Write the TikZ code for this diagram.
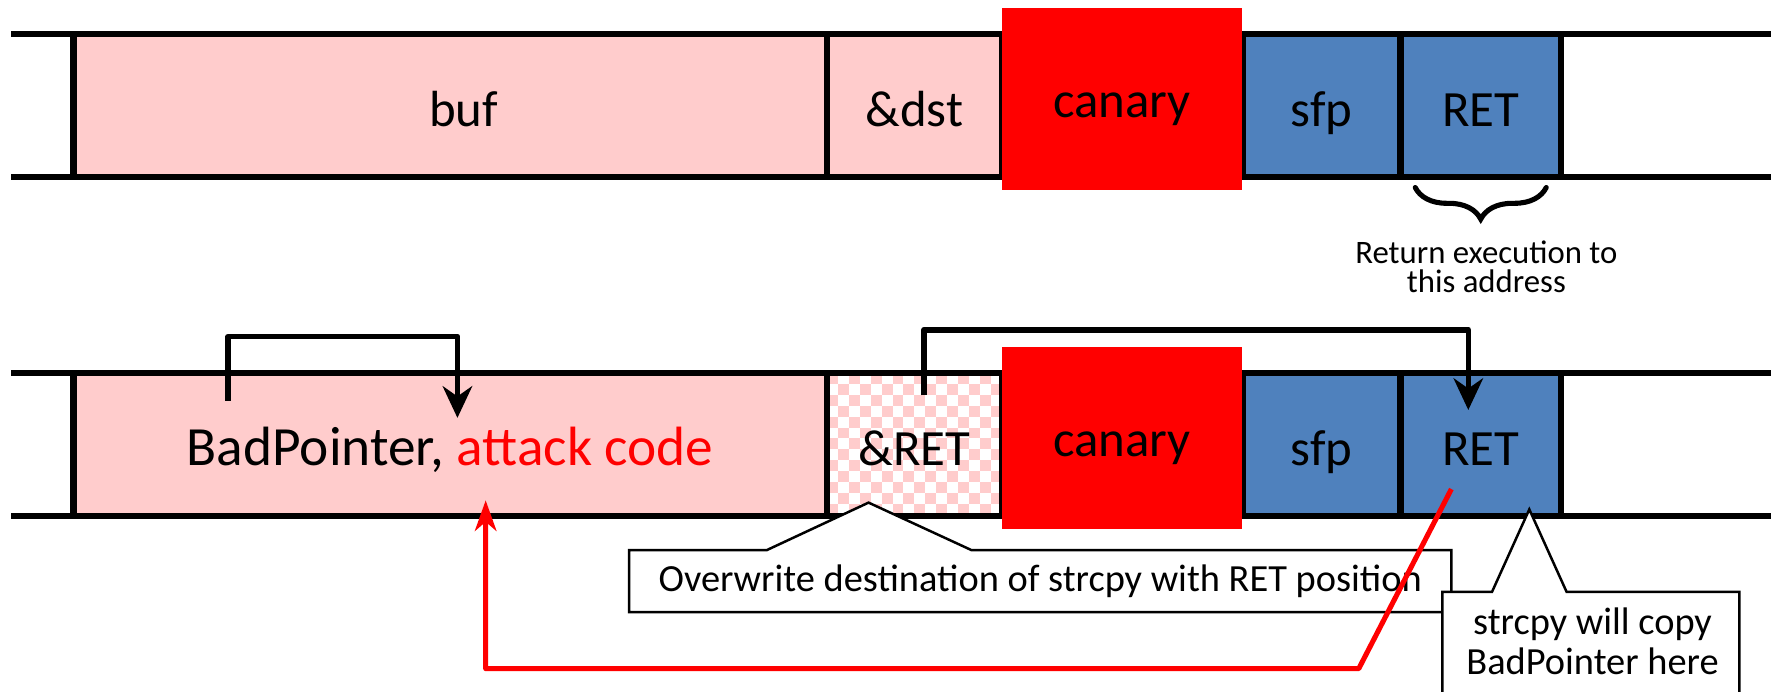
\documentclass[tikz,border=0pt]{standalone}
\usepackage{fontspec}
\setmainfont{Carlito}
\usetikzlibrary{arrows.meta,decorations.pathreplacing}
\definecolor{pinkc}{HTML}{FFCCCC}
\definecolor{bluec}{HTML}{4F81BD}
\definecolor{redc}{HTML}{FF0000}
\begin{document}
\begin{tikzpicture}[x=1pt,y=-1pt,
  rail/.style={line width=5.5pt},
  cell/.style={draw=black,line width=5.5pt,minimum height=127pt,inner sep=0pt,
    text height=37pt,text depth=0pt,font=\fontsize{45}{54}\selectfont},
  canarybox/.style={fill=redc,minimum width=213pt,minimum height=161pt,inner sep=0pt,
    text height=33pt,text depth=0pt,font=\fontsize{45}{54}\selectfont},
  blk/.style={line width=5pt,line join=round,-{Stealth[length=28pt,width=26pt,inset=9pt]}},
  redarrow/.style={draw=redc,line width=4.5pt,line join=round,-{Stealth[length=27pt,width=19pt,inset=8pt]}},
  callout/.style={draw=black,fill=white,line width=2.2pt,line join=miter},
  calltext/.style={font=\fontsize{34}{35}\selectfont,align=center,inner sep=0pt},
  note/.style={font=\fontsize{29}{26}\selectfont,align=center,inner sep=0pt}
]
\clip (0,0) rectangle (1568,612);
% ---------- top row ----------
\draw[rail] (10,30) -- (1568,30);
\draw[rail] (10,157) -- (1568,157);
\node[cell,fill=pinkc,minimum width=667pt] (b1buf) at (398.5,93.5) {\hspace*{24pt}buf};
\node[cell,fill=pinkc,minimum width=155pt] (b1dst) at (809.5,93.5) {\&dst};
\node[cell,fill=bluec,minimum width=140pt] (b1sfp) at (1170,93.5) {sfp};
\node[cell,fill=bluec,minimum width=142pt] (b1ret) at (1311,93.5) {RET};
\node[canarybox] (b1can) at (993.5,87.5) {canary};
\draw[decorate,decoration={brace,amplitude=28pt,mirror},line width=4.5pt,line cap=round] (1253,166) -- (1369,166);
\node[note] (retnote) at (1316,236) {Return execution to\\this address};
% ---------- bottom row ----------
\draw[rail] (10,330) -- (1568,330);
\draw[rail] (10,457) -- (1568,457);
\node[cell,fill=pinkc,minimum width=667pt,font=\fontsize{49}{58}\selectfont] (b2buf) at (398.5,393.5)
  {BadPointer, \textcolor{redc}{attack code}};
\begin{scope}
  \clip (732,330) rectangle (887,457);
  \fill[white] (732,330) rectangle (887,457);
  \foreach \i in {0,...,16}{
    \foreach \j in {0,...,13}{
      \pgfmathtruncatemacro\k{mod(\i+\j,2)}
      \ifnum\k=0
        \fill[pinkc] ({732+\i*9.7},{330+\j*9.7}) rectangle ++(9.7,9.7);
      \fi
    }
  }
\end{scope}
\node[cell,minimum width=155pt] (b2amp) at (809.5,393.5) {\&RET};
\node[cell,fill=bluec,minimum width=140pt] (b2sfp) at (1170,393.5) {sfp};
\node[cell,fill=bluec,minimum width=142pt] (b2ret) at (1311,393.5) {RET};
\node[canarybox] (b2can) at (993.5,387.5) {canary};
% ---------- black arrows ----------
\coordinate (a1s) at (202,355);
\coordinate (a1e) at (405,370);
\draw[blk] (a1s) -- ++(0,-57) -| (a1e);
\coordinate (a2s) at (818,350);
\coordinate (a2e) at (1300,363);
\draw[blk] (a2s) -- ++(0,-58) -| (a2e);
% ---------- callout 1 ----------
\draw[callout] (557,487) -- (679,487) -- (769,445) -- (860,487) -- (1285,487)
  -- (1285,542) -- (557,542) -- cycle;
\node[calltext] (c1) at (921,515) {Overwrite destination of strcpy with RET position};
% ---------- red arrow ----------
\coordinate (r0) at (1285,433);
\coordinate (r1) at (1203,592);
\coordinate (r2) at (430,443);
\draw[redarrow] (r0) -- (r1) -| (r2);
% ---------- callout 2 ----------
\draw[callout] (1277,640) -- (1277,524) -- (1321,524) -- (1354,451) -- (1387,524)
  -- (1540,524) -- (1540,640);
\node[calltext] (c2) at (1410,568) {strcpy will copy\\BadPointer here};
\end{tikzpicture}
\end{document}
